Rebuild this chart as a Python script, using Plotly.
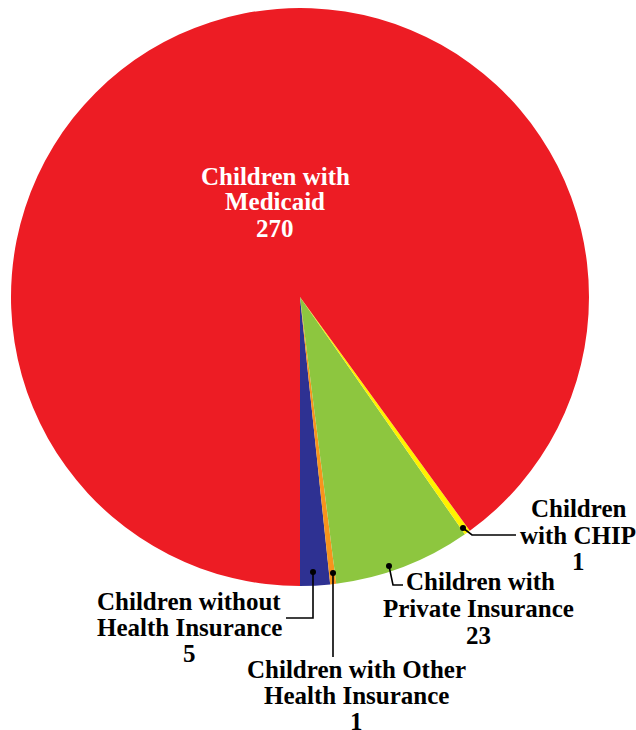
import plotly.graph_objects as go

W, H = 636, 730

# ---- data ----
categories = [
    "Children without Health Insurance",
    "Children with Other Health Insurance",
    "Children with Private Insurance",
    "Children with CHIP",
    "Children with Medicaid",
]
values = [5, 1, 23, 1, 270]
colors = ["#2E3192", "#F7941D", "#8DC63F", "#FFF200", "#ED1C24"]

label_lines = {
    "Children with Medicaid": ["Children with", "Medicaid"],
    "Children without Health Insurance": ["Children without", "Health Insurance"],
    "Children with Other Health Insurance": ["Children with Other", "Health Insurance"],
    "Children with Private Insurance": ["Children with", "Private Insurance"],
    "Children with CHIP": ["Children", "with CHIP"],
}

def px(x):
    return x / W

def py(y):
    return 1 - y / H

FONT = "Liberation Serif"

# first slice should start at 6 o'clock and run counterclockwise
rot = 180 - 360.0 * values[0] / sum(values)

fig = go.Figure(go.Pie(
    labels=categories,
    values=values,
    marker=dict(colors=colors, line=dict(width=0)),
    sort=False,
    direction="counterclockwise",
    rotation=rot,
    textinfo="none",
    hoverinfo="label+value",
    showlegend=False,
    domain=dict(x=[px(11), px(589)], y=[py(586), py(8)]),
))

annotations = []
shapes = []

label_pos = {
    "Children with Medicaid": (275, [177, 202, 228], "white"),
    "Children without Health Insurance": (189, [601, 627, 653], "black"),
    "Children with Other Health Insurance": (356, [669, 695, 721], "black"),
    "Children with Private Insurance": (478, [581, 608, 635], "black"),
    "Children with CHIP": (578, [508, 535, 561], "black"),
}

for cat, val in zip(categories, values):
    cx, ys, col = label_pos[cat]
    lines = label_lines[cat] + [str(val)]
    for i, (txt, yy) in enumerate(zip(lines, ys)):
        xx = cx
        xanchor = "center"
        if cat == "Children with Private Insurance" and i == 0:
            xx, xanchor = 404, "left"
        annotations.append(dict(
            x=px(xx), y=py(yy), xref="paper", yref="paper",
            text="<b>%s</b>" % txt, showarrow=False,
            xanchor=xanchor, yanchor="middle",
            font=dict(family=FONT, size=25, color=col),
        ))

leaders = [
    [(313, 572), (313, 618), (286, 618)],
    [(333, 573), (333, 657)],
    [(389, 566), (393, 585), (403, 585)],
    [(463, 528), (472, 535), (516, 535)],
]
for pts in leaders:
    path = "M " + " L ".join("%.5f,%.5f" % (px(x), py(y)) for x, y in pts)
    shapes.append(dict(type="path", path=path, xref="paper", yref="paper",
                       line=dict(color="black", width=1.6)))
    dx, dy = pts[0]
    shapes.append(dict(type="circle", xref="paper", yref="paper",
                       x0=px(dx - 3), x1=px(dx + 3), y0=py(dy + 3), y1=py(dy - 3),
                       fillcolor="black", line=dict(width=0)))

annotations.append(dict(
    x=px(140), y=py(6), xref="paper", yref="paper",
    text="<b>Head Start</b>", showarrow=False,
    xanchor="right", yanchor="bottom",
    font=dict(family="Open Sans", size=24, color="#8E8BC9"),
))

fig.update_layout(
    width=W, height=H,
    margin=dict(l=0, r=0, t=0, b=0),
    paper_bgcolor="white",
    plot_bgcolor="white",
    annotations=annotations,
    shapes=shapes,
)

fig.write_html(
    "out.html",
    config={"displayModeBar": False},
    post_script="document.body.style.margin='0';document.body.style.overflow='hidden';",
)
